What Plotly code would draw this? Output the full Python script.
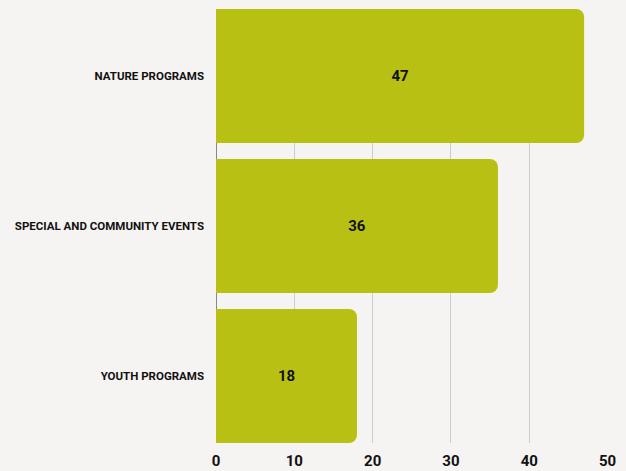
import plotly.graph_objects as go

categories = ["NATURE PROGRAMS", "SPECIAL AND COMMUNITY EVENTS", "YOUTH PROGRAMS"]
values = [47, 36, 18]
x_ticks = [0, 10, 20, 30, 40, 50]

font_family = "Roboto, sans-serif"
gap = 0.107
half = (1 - gap) / 2

fig = go.Figure(go.Bar(
    x=values,
    y=categories,
    orientation="h",
    marker=dict(color="#b8c113", line=dict(width=0)),
    text=values,
    textposition="inside",
    insidetextanchor="middle",
    textfont=dict(family=font_family, size=15, color="#111111", weight="bold"),
    textangle=0,
))

fig.update_layout(
    width=626,
    height=471,
    margin=dict(l=216, r=18, t=9, b=28),
    paper_bgcolor="#f5f4f2",
    plot_bgcolor="#f5f4f2",
    bargap=gap,
    barcornerradius=8,
    showlegend=False,
    font=dict(family=font_family, color="#111111"),
)
fig.update_xaxes(
    range=[0, 50.05],
    tickvals=x_ticks,
    showgrid=True,
    gridcolor="#cccccc",
    gridwidth=1,
    zeroline=True,
    zerolinecolor="#888888",
    zerolinewidth=1,
    tickfont=dict(family=font_family, size=15, color="#111111", weight="bold"),
    ticks="",
    ticklabelstandoff=7,
    automargin=False,
    fixedrange=True,
)
fig.update_yaxes(
    autorange=False,
    range=[len(categories) - 1 + half, -half],
    showgrid=False,
    ticks="",
    ticklabelstandoff=11,
    tickfont=dict(family=font_family, size=11.5, color="#111111", weight="bold"),
    automargin=False,
    fixedrange=True,
)

fig.write_html("out.html", config={"displayModeBar": False},
               post_script="document.body.style.margin='0';")
